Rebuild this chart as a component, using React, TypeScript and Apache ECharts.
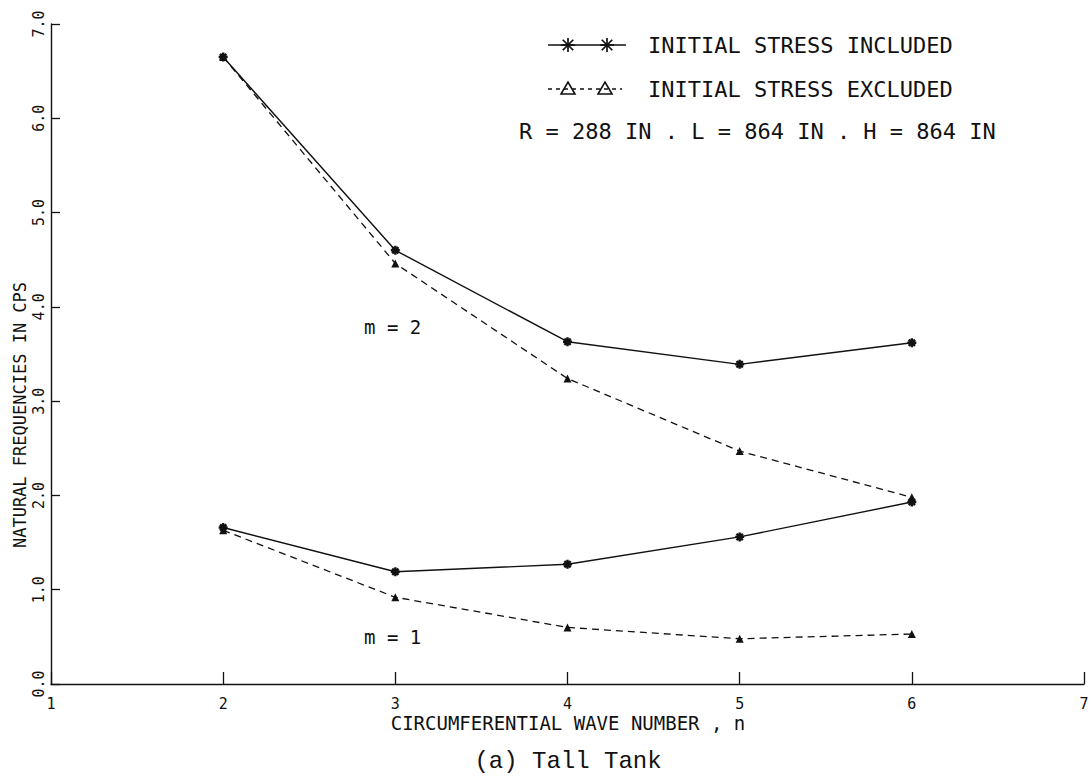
import React, { useEffect, useRef } from "react";
import * as echarts from "echarts";

const waveNumbers = [2, 3, 4, 5, 6];
const includedM2 = [6.65, 4.6, 3.63, 3.39, 3.62];
const excludedM2 = [6.65, 4.46, 3.24, 2.47, 1.98];
const includedM1 = [1.66, 1.19, 1.27, 1.56, 1.93];
const excludedM1 = [1.63, 0.92, 0.6, 0.48, 0.53];

const legendIncluded = "INITIAL STRESS INCLUDED";
const legendExcluded = "INITIAL STRESS EXCLUDED";
const paramsText = "R = 288 IN . L = 864 IN . H = 864 IN";
const yAxisName = "NATURAL FREQUENCIES IN CPS";
const xAxisName = "CIRCUMFERENTIAL WAVE NUMBER , n";
const caption = "(a) Tall Tank";
const modeLabels = ["m = 2", "m = 1"];

const MONO = "'DejaVu Sans Mono', monospace";
const INK = "#111";

const starPath =
  "path://M5,0 L5,10 M0,5 L10,5 M1.5,1.5 L8.5,8.5 M1.5,8.5 L8.5,1.5";

function pairs(vals: number[]) {
  return waveNumbers.map((n, i) => [n, vals[i]]);
}

function starLines(cx: number, cy: number, r: number) {
  const d = r * 0.75;
  const segs = [
    [cx - r, cy, cx + r, cy],
    [cx, cy - r, cx, cy + r],
    [cx - d, cy - d, cx + d, cy + d],
    [cx - d, cy + d, cx + d, cy - d],
  ];
  return segs.map((s) => ({
    type: "line",
    shape: { x1: s[0], y1: s[1], x2: s[2], y2: s[3] },
    style: { stroke: INK, lineWidth: 1.7 },
  }));
}

function triangle(cx: number, cy: number) {
  return {
    type: "polygon",
    shape: {
      points: [
        [cx - 7, cy + 5],
        [cx + 7, cy + 5],
        [cx, cy - 7],
      ],
    },
    style: { fill: "none", stroke: INK, lineWidth: 1.6 },
  };
}

export default function App() {
  const ref = useRef<HTMLDivElement>(null);

  useEffect(() => {
    document.body.style.margin = "0";
    const chart = echarts.init(ref.current!, null, { renderer: "svg" });

    const solidSeries = (name: string, vals: number[]) => ({
      name,
      type: "line",
      data: pairs(vals),
      symbol: starPath,
      symbolSize: 9,
      itemStyle: { color: INK, borderColor: INK, borderWidth: 2.4 },
      lineStyle: { color: INK, width: 1.4, type: "solid" },
      z: 3,
    });
    const dashedSeries = (name: string, vals: number[]) => ({
      name,
      type: "line",
      data: pairs(vals),
      symbol: "triangle",
      symbolSize: 8,
      itemStyle: { color: INK },
      lineStyle: { color: INK, width: 1.3, type: [7, 5] },
      z: 2,
    });

    const legendY1 = 45;
    const legendY2 = 89;

    chart.setOption({
      animation: false,
      backgroundColor: "#fff",
      grid: { left: 51, right: 8, top: 24, bottom: 93 },
      xAxis: {
        type: "value",
        min: 1,
        max: 7,
        interval: 1,
        axisLine: { show: true, lineStyle: { color: INK, width: 1.4 } },
        axisTick: { show: true, inside: true, length: 12, lineStyle: { color: INK, width: 1.3 } },
        axisLabel: {
          color: INK,
          fontFamily: MONO,
          fontSize: 15,
          margin: 12,
        },
        splitLine: { show: false },
      },
      yAxis: {
        type: "value",
        min: 0,
        max: 7,
        interval: 1,
        axisLine: { show: true, lineStyle: { color: INK, width: 1.4 } },
        axisTick: { show: true, inside: true, length: 9, lineStyle: { color: INK, width: 1.3 } },
        axisLabel: {
          color: INK,
          fontFamily: MONO,
          fontSize: 15,
          rotate: 90,
          margin: 5,
          formatter: (v: number) => v.toFixed(1),
        },
        splitLine: { show: false },
      },
      series: [
        solidSeries("m=2 INITIAL STRESS INCLUDED", includedM2),
        dashedSeries("m=2 INITIAL STRESS EXCLUDED", excludedM2),
        solidSeries("m=1 INITIAL STRESS INCLUDED", includedM1),
        dashedSeries("m=1 INITIAL STRESS EXCLUDED", excludedM1),
      ],
      graphic: [
        // legend row 1
        {
          type: "line",
          shape: { x1: 548, y1: legendY1, x2: 626, y2: legendY1 },
          style: { stroke: INK, lineWidth: 1.3 },
        },
        ...starLines(568, legendY1, 7),
        ...starLines(607, legendY1, 7),
        {
          type: "text",
          x: 648,
          y: legendY1,
          style: {
            text: legendIncluded,
            font: `22px ${MONO}`,
            fill: INK,
            verticalAlign: "middle",
          },
        },
        // legend row 2
        {
          type: "line",
          shape: { x1: 548, y1: legendY2, x2: 622, y2: legendY2 },
          style: { stroke: INK, lineWidth: 1.3, lineDash: [4, 4] },
        },
        triangle(568, legendY2),
        triangle(605, legendY2),
        {
          type: "text",
          x: 648,
          y: legendY2,
          style: {
            text: legendExcluded,
            font: `22px ${MONO}`,
            fill: INK,
            verticalAlign: "middle",
          },
        },
        {
          type: "text",
          x: 519,
          y: 131,
          style: {
            text: paramsText,
            font: `22px ${MONO}`,
            fill: INK,
            verticalAlign: "middle",
          },
        },
        // mode labels
        {
          type: "text",
          x: 364,
          y: 327,
          style: { text: modeLabels[0], font: `19px ${MONO}`, fill: INK, verticalAlign: "middle" },
        },
        {
          type: "text",
          x: 364,
          y: 637,
          style: { text: modeLabels[1], font: `19px ${MONO}`, fill: INK, verticalAlign: "middle" },
        },
        // axis names
        {
          type: "text",
          x: 20,
          y: 415,
          rotation: Math.PI / 2,
          style: {
            text: yAxisName,
            font: `17px ${MONO}`,
            fill: INK,
            align: "center",
            verticalAlign: "middle",
          },
        },
        {
          type: "text",
          x: 568,
          y: 723,
          style: {
            text: xAxisName,
            font: `19px ${MONO}`,
            fill: INK,
            align: "center",
            verticalAlign: "middle",
          },
        },
        {
          type: "text",
          x: 568,
          y: 761,
          style: {
            text: caption,
            font: `24px 'Liberation Mono', 'Courier New', monospace`,
            fill: INK,
            align: "center",
            verticalAlign: "middle",
          },
        },
      ],
    });

    return () => chart.dispose();
  }, []);

  return <div ref={ref} style={{ width: 1092, height: 777 }} />;
}
